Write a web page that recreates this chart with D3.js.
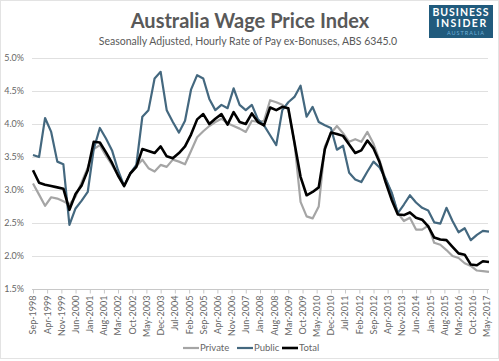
<!DOCTYPE html>
<html>
<head>
<meta charset="utf-8">
<script src="https://cdn.jsdelivr.net/npm/d3@7"></script>
<style>
  body { margin: 0; background: #fff; }
  svg { display: block; font-family: Lato, 'Open Sans', sans-serif; }
</style>
</head>
<body>
<div id="chart"></div>
<script>
// quarterly series, Sep-1998 .. Jun-2017 (annual % change)
const firstQuarter = 'Sep-1998'
const privateWpi = [
  3.10, 2.93, 2.76, 2.89, 2.87, 2.83, 2.78, 2.90, 3.12, 3.34, 3.62, 3.68, 3.52, 3.38,
  3.22, 3.07, 3.25, 3.36, 3.46, 3.33, 3.28, 3.38, 3.35, 3.46, 3.43, 3.39, 3.59, 3.80,
  3.89, 3.97, 4.03, 4.08, 4.01, 3.97, 3.93, 3.88, 4.05, 4.03, 4.05, 4.36, 4.33, 4.29,
  4.22, 3.72, 2.82, 2.60, 2.57, 2.75, 3.66, 3.86, 3.97, 3.86, 3.73, 3.77, 3.73, 3.88,
  3.70, 3.45, 3.16, 2.95, 2.65, 2.53, 2.58, 2.40, 2.40, 2.46, 2.20, 2.17, 2.09, 2.00,
  1.97, 1.89, 1.85, 1.78, 1.77, 1.76
]
const publicWpi = [
  3.53, 3.50, 4.09, 3.88, 3.43, 3.39, 2.47, 2.72, 2.84, 2.97, 3.62, 3.94, 3.78, 3.60,
  3.30, 3.06, 3.25, 3.38, 4.11, 4.21, 4.69, 4.79, 4.21, 4.03, 3.87, 4.05, 4.52, 4.74,
  4.69, 4.38, 4.21, 4.29, 4.24, 4.54, 4.29, 4.21, 4.29, 4.07, 3.98, 3.83, 3.68, 4.21,
  4.33, 4.41, 4.58, 4.11, 4.26, 4.03, 3.98, 3.94, 3.61, 3.67, 3.26, 3.16, 3.12, 3.28,
  3.43, 3.34, 3.17, 2.96, 2.65, 2.78, 2.92, 2.81, 2.73, 2.69, 2.51, 2.49, 2.73, 2.53,
  2.36, 2.42, 2.24, 2.32, 2.38, 2.37
]
const totalWpi = [
  3.30, 3.11, 3.08, 3.06, 3.04, 3.02, 2.70, 2.94, 3.07, 3.30, 3.73, 3.72, 3.57, 3.41,
  3.22, 3.06, 3.25, 3.35, 3.62, 3.59, 3.56, 3.66, 3.51, 3.48, 3.56, 3.66, 3.84, 4.07,
  4.15, 4.00, 4.08, 4.15, 3.99, 4.18, 4.03, 4.00, 4.16, 4.03, 3.98, 4.25, 4.21, 4.26,
  4.24, 3.72, 3.20, 2.92, 2.97, 3.04, 3.62, 3.87, 3.85, 3.82, 3.69, 3.56, 3.60, 3.75,
  3.63, 3.42, 3.12, 2.85, 2.63, 2.62, 2.66, 2.58, 2.55, 2.45, 2.28, 2.25, 2.24, 2.14,
  2.04, 2.02, 1.87, 1.86, 1.92, 1.91
]
const tickLabels = [
  'Sep-1998', 'Apr-1999', 'Nov-1999', 'Jun-2000', 'Jan-2001', 'Aug-2001', 'Mar-2002',
  'Oct-2002', 'May-2003', 'Dec-2003', 'Jul-2004', 'Feb-2005', 'Sep-2005', 'Apr-2006',
  'Nov-2006', 'Jun-2007', 'Jan-2008', 'Aug-2008', 'Mar-2009', 'Oct-2009', 'May-2010',
  'Dec-2010', 'Jul-2011', 'Feb-2012', 'Sep-2012', 'Apr-2013', 'Nov-2013', 'Jun-2014',
  'Jan-2015', 'Aug-2015', 'Mar-2016', 'Oct-2016', 'May-2017'
]
const yTicks = [1.5, 2.0, 2.5, 3.0, 3.5, 4.0, 4.5, 5.0]
const series = [
  { name: 'Private', values: privateWpi, colour: '#a5a5a5', width: 2.2 },
  { name: 'Public', values: publicWpi, colour: '#44687f', width: 2.2 },
  { name: 'Total', values: totalWpi, colour: '#000000', width: 2.6 }
]

const width = 499
const height = 361
const parseMonth = d3.timeParse('%b-%Y')
const start = parseMonth(firstQuarter)
const dates = totalWpi.map((d, i) => d3.timeMonth.offset(start, 3 * i))

const x = d3.scaleTime()
  .domain([start, dates[dates.length - 1]])
  .range([33, 489])
const y = d3.scaleLinear()
  .domain([1.5, 5])
  .range([289, 58])

const svg = d3.select('#chart')
  .append('svg')
  .attr('width', width)
  .attr('height', height)
  .attr('viewBox', [0, 0, width, height])

// chart area border
svg.append('rect')
  .attr('x', 0.5).attr('y', 0.5)
  .attr('width', width - 1).attr('height', 358)
  .attr('fill', 'none')
  .attr('stroke', '#e3e3e3')

// titles
svg.append('text')
  .attr('x', 250).attr('y', 28)
  .attr('text-anchor', 'middle')
  .attr('font-size', 20)
  .attr('font-weight', 'bold')
  .attr('fill', '#595959')
  .text('Australia Wage Price Index')

svg.append('text')
  .attr('x', 248).attr('y', 45)
  .attr('text-anchor', 'middle')
  .attr('font-size', 10.5)
  .attr('fill', '#595959')
  .text('Seasonally Adjusted, Hourly Rate of Pay ex-Bonuses, ABS 6345.0')

// logo
const logo = svg.append('g')
logo.append('rect')
  .attr('x', 429).attr('y', 5)
  .attr('width', 64).attr('height', 33)
  .attr('fill', '#215b7d')
logo.append('text')
  .attr('x', 461).attr('y', 16)
  .attr('text-anchor', 'middle')
  .attr('font-size', 10.5)
  .attr('font-weight', 'bold')
  .attr('letter-spacing', 1)
  .attr('fill', '#fff')
  .text('BUSINESS')
logo.append('text')
  .attr('x', 462).attr('y', 27)
  .attr('text-anchor', 'middle')
  .attr('font-size', 10.5)
  .attr('font-weight', 'bold')
  .attr('letter-spacing', 1.5)
  .attr('fill', '#fff')
  .text('INSIDER')
logo.append('text')
  .attr('x', 466).attr('y', 34.5)
  .attr('text-anchor', 'middle')
  .attr('font-size', 5.5)
  .attr('letter-spacing', 1)
  .attr('fill', '#6fb0d8')
  .text('AUSTRALIA')

// gridlines + y labels
const yAxis = svg.append('g')
  .attr('transform', 'translate(32,0)')
  .call(d3.axisLeft(y)
    .tickValues(yTicks)
    .tickSize(-456)
    .tickPadding(8)
    .tickFormat(d3.format('.1%')).tickFormat(d => d.toFixed(1) + '%'))
yAxis.select('.domain').remove()
yAxis.selectAll('.tick line').attr('stroke', '#e0e0e0').attr('stroke-width', 1)
yAxis.selectAll('.tick text')
  .attr('fill', '#666')
  .attr('font-size', 9)
  .attr('font-family', 'Lato, sans-serif')

// x axis
const xAxis = svg.append('g')
  .attr('transform', 'translate(0,289.5)')
  .call(d3.axisBottom(x)
    .tickValues(tickLabels.map(parseMonth))
    .tickSize(4)
    .tickFormat(d3.timeFormat('%b-%Y')))
xAxis.select('.domain')
  .attr('stroke', '#c8c8c8')
  .attr('d', 'M32,0H489')
xAxis.selectAll('.tick line').attr('stroke', '#c8c8c8')
xAxis.selectAll('.tick text')
  .attr('fill', '#666')
  .attr('font-size', 9)
  .attr('font-family', 'Lato, sans-serif')
  .attr('text-anchor', 'end')
  .attr('transform', 'rotate(-90)')
  .attr('x', -6)
  .attr('y', 0)
  .attr('dy', '0.32em')

// lines
const line = d3.line()
  .x((d, i) => x(dates[i]))
  .y(d => y(d))

svg.append('g')
  .selectAll('path')
  .data(series)
  .join('path')
  .attr('fill', 'none')
  .attr('stroke', d => d.colour)
  .attr('stroke-width', d => d.width)
  .attr('stroke-linejoin', 'round')
  .attr('d', d => line(d.values))

// legend
const legendX = [183, 237, 282]
const legend = svg.append('g')
  .selectAll('g')
  .data(series)
  .join('g')
  .attr('transform', (d, i) => `translate(${legendX[i]},348)`)
legend.append('line')
  .attr('x1', 0).attr('x2', 16)
  .attr('stroke', d => d.colour)
  .attr('stroke-width', d => d.width)
legend.append('text')
  .attr('x', 17)
  .attr('dy', '0.35em')
  .attr('font-size', 9.5)
  .attr('fill', '#666')
  .text(d => d.name)
</script>
</body>
</html>
